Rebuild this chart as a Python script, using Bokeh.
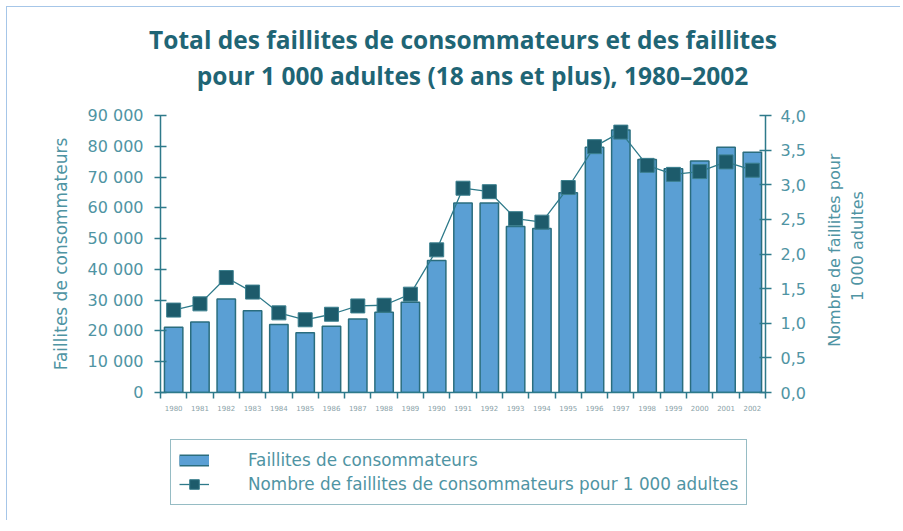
import math
from bokeh.plotting import figure
from bokeh.layouts import column
from bokeh.models import (Range1d, LinearAxis, FixedTicker, Legend, LegendItem,
                          ColumnDataSource, Title)
from bokeh.embed import file_html
from bokeh.resources import INLINE

# ---- data ----
years = list(range(1980, 2003))
faillites = [21200, 22900, 30400, 26600, 22100, 19400, 21500, 23900, 26100, 29300,
             42900, 61600, 61600, 53900, 53300, 64900, 79700, 85300, 75700, 72700,
             75200, 79700, 78100]
pour_1000 = [1.19, 1.28, 1.66, 1.45, 1.15, 1.05, 1.13, 1.25, 1.26, 1.42,
             2.06, 2.95, 2.90, 2.51, 2.46, 2.96, 3.55, 3.76, 3.28, 3.15,
             3.19, 3.33, 3.21]
left_ticks = [0, 10000, 20000, 30000, 40000, 50000, 60000, 70000, 80000, 90000]
left_labels = ["0", "10 000", "20 000", "30 000", "40 000", "50 000", "60 000",
               "70 000", "80 000", "90 000"]
right_ticks = [0, 0.5, 1.0, 1.5, 2.0, 2.5, 3.0, 3.5, 4.0]
right_labels = ["0,0", "0,5", "1,0", "1,5", "2,0", "2,5", "3,0", "3,5", "4,0"]
title_line1 = "Total des faillites de consommateurs et des faillites"
title_line2 = "\u00a0\u00a0\u00a0pour 1 000 adultes (18 ans et plus), 1980\u20132002"
y_left_label = "Faillites de consommateurs"
NB = "\u00a0"
y_right_label = NB * 9 + "Nombre de faillites pour\n" + NB * 18 + "1 000 adultes"
legend_bar = "Faillites de consommateurs"
legend_line = "Nombre de faillites de consommateurs pour 1 000 adultes"

# ---- style ----
TEAL_DARK = "#1f6575"
TEAL = "#2e7a8a"
TEAL_TEXT = "#4f94a3"
BAR_FILL = "#5a9fd4"
BAR_LINE = "#2a6d7e"
MARK_FILL = "#1d5b6b"
MARK_LINE = "#3b7f8e"
FONT = "DejaVu Sans"
TFONT = "Open Sans"

src = ColumnDataSource(dict(year=years, n=faillites, r=pour_1000))

p = figure(width=893, height=413, output_backend="svg", toolbar_location=None,
           x_range=Range1d(years[0] - 0.5, years[-1] + 0.5),
           y_range=Range1d(left_ticks[0], left_ticks[-1]),
           min_border_left=153, min_border_right=135,
           min_border_top=108, min_border_bottom=28,
           x_axis_location=None, y_axis_location=None)
p.extra_y_ranges = {"right": Range1d(right_ticks[0], right_ticks[-1])}
p.outline_line_color = None
p.xgrid.visible = False
p.ygrid.visible = False
p.background_fill_color = "white"
p.border_fill_color = "white"

# title (two centred lines; the later-added Title sits closer to the frame)
p.title.text = title_line1
p.title.align = "center"
p.title.text_font = TFONT
p.title.text_font_style = "bold"
p.title.text_font_size = "24.5px"
p.title.text_color = TEAL_DARK
p.title.standoff = -44
t2 = Title(text=title_line2, align="center", text_font=TFONT,
           text_font_style="bold", text_font_size="24.5px", text_color=TEAL_DARK,
           standoff=47)
p.add_layout(t2, "above")

# bars
bars = p.vbar(x="year", top="n", width=0.7, source=src, fill_color=BAR_FILL,
              line_color=BAR_LINE, line_width=1.5)
# line + markers
ln = p.line(x="year", y="r", source=src, y_range_name="right",
            line_color=TEAL, line_width=1.3)
mk = p.scatter(x="year", y="r", source=src, y_range_name="right", marker="square",
               size=14, fill_color=MARK_FILL, line_color=MARK_LINE, line_width=1)

# axes
def style_axis(ax):
    ax.axis_line_color = TEAL
    ax.axis_line_width = 1.5
    ax.major_tick_line_color = TEAL
    ax.major_tick_line_width = 1.5
    ax.minor_tick_line_color = None
    ax.major_label_text_font = FONT
    ax.major_label_text_color = TEAL_TEXT
    ax.axis_label_text_font = FONT
    ax.axis_label_text_color = TEAL_TEXT
    ax.axis_label_text_font_style = "normal"

yl = LinearAxis(ticker=FixedTicker(ticks=left_ticks),
                major_label_overrides={t: s for t, s in zip(left_ticks, left_labels)},
                axis_label=y_left_label)
style_axis(yl)
yl.major_tick_in = 6
yl.major_tick_out = 6
yl.major_label_standoff = 11
yl.major_label_text_font_size = "16px"
yl.axis_label_text_font_size = "17px"
yl.axis_label_standoff = 14
p.add_layout(yl, "left")

yr = LinearAxis(y_range_name="right", ticker=FixedTicker(ticks=right_ticks),
                major_label_overrides={t: s for t, s in zip(right_ticks, right_labels)},
                axis_label=y_right_label)
style_axis(yr)
yr.major_tick_in = 6
yr.major_tick_out = 6
yr.major_label_standoff = 9
yr.major_label_text_font_size = "16px"
yr.axis_label_text_font_size = "16px"
yr.axis_label_standoff = 37
yr.axis_label_orientation = math.pi / 2
yr.axis_label_align = "start"
p.add_layout(yr, "right")

xa = LinearAxis(ticker=FixedTicker(ticks=years,
                                   minor_ticks=[y - 0.5 for y in years] + [years[-1] + 0.5]),
                major_label_overrides={y: str(y) for y in years})
style_axis(xa)
xa.major_tick_line_color = None
xa.major_tick_in = 0
xa.major_tick_out = 0
xa.minor_tick_line_color = TEAL
xa.minor_tick_line_width = 1.5
xa.minor_tick_in = 0
xa.minor_tick_out = 6
xa.major_label_standoff = 6
xa.major_label_text_font_size = "7px"
xa.major_label_text_color = "#8aa2a8"
p.add_layout(xa, "below")

# ---- legend panel (separate strip under the chart, frames aligned) ----
q = figure(width=893, height=100, output_backend="svg", toolbar_location=None,
           x_range=Range1d(0, 1), y_range=Range1d(0, 1),
           min_border=0, x_axis_location=None, y_axis_location=None)
q.outline_line_color = None
q.xgrid.visible = False
q.ygrid.visible = False
dummy = ColumnDataSource(dict(x=[0.5, 0.5], y=[0.5, 0.5]))
sw_dark = q.line(x="x", y="y", source=dummy, line_color=BAR_LINE, line_width=12,
                 line_cap="butt", visible=False)
sw_fill = q.line(x="x", y="y", source=dummy, line_color=BAR_FILL, line_width=9,
                 line_cap="butt", visible=False)
lg_line = q.line(x="x", y="y", source=dummy, line_color=TEAL, line_width=1.3,
                 visible=False)
lg_mark = q.scatter(x="x", y="y", source=dummy, marker="square", fill_color=MARK_FILL,
                    line_color=MARK_LINE, line_width=1, visible=False)
legend = Legend(items=[LegendItem(label=legend_bar, renderers=[sw_dark, sw_fill]),
                       LegendItem(label=legend_line, renderers=[lg_line, lg_mark])],
                location=(10, 15), orientation="vertical",
                glyph_width=30, glyph_height=24, label_standoff=39,
                padding=8, margin=0, spacing=0,
                label_text_font=FONT, label_text_font_size="16.8px",
                label_text_color=TEAL_TEXT, label_height=24,
                border_line_color=TEAL, border_line_width=1.5,
                background_fill_alpha=1.0)
q.add_layout(legend, "center")

layout = column(p, q, spacing=0)
layout.styles = {"margin-left": "6px", "margin-top": "6px",
                 "border-left": "1px solid #a6c6e8", "border-top": "1px solid #a6c6e8"}

open("out.html", "w").write(file_html(layout, INLINE))
